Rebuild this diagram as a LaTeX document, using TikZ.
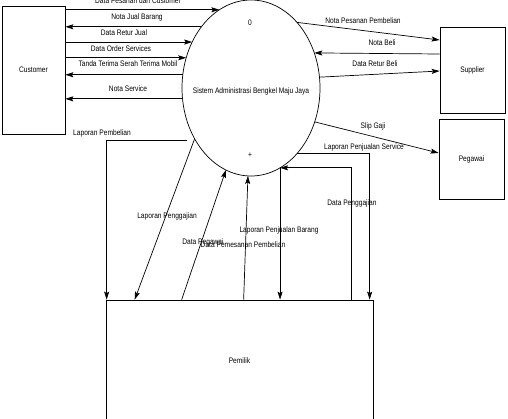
\documentclass[tikz,border=0pt]{standalone}
\usepackage{fontspec}
\setmainfont{Liberation Sans}[FakeStretch=0.83]
\usetikzlibrary{arrows.meta,shapes.geometric,calc}
\begin{document}
\begin{tikzpicture}[x=1pt,y=-1pt,
  every node/.style={font=\fontsize{8}{9}\selectfont, inner sep=0pt},
  box/.style={draw, line width=0.7pt, minimum width=#1},
  arr/.style={line width=0.7pt, -{Stealth[length=8pt,width=5pt,inset=1.5pt]}},
  lbl/.style={}]
\useasboundingbox (0,0) rectangle (508,418);
% entities
\node[draw, line width=0.7pt, minimum width=63pt, minimum height=128pt] (cust) at (33.5,70) {Customer};
\node[draw, line width=0.7pt, minimum width=65pt, minimum height=86pt] (sup) at (472.5,70) {Supplier};
\node[draw, line width=0.7pt, minimum width=65pt, minimum height=80pt] (peg) at (471.5,159) {Pegawai};
\node[draw, line width=0.7pt, minimum width=267pt, minimum height=121pt] (pem) at (239.5,360.5) {Pemilik};
% process
\node[draw, ellipse, line width=0.7pt, minimum width=138pt, minimum height=176pt, outer sep=0pt] (ell) at (251,88) {};
\node (pn) at (250,23) {0};
\node (pname) at (251,91) {Sistem Administrasi Bengkel Maju Jaya};
\node (plus) at (250,155) {+};
% customer flows
\draw[arr] (cust.east |- ell.112.3) -- (ell.112.3);
\draw[arr] (ell.129.8) -- (cust.east |- ell.129.8);
\draw[arr] (cust.east |- ell.142.7) -- (ell.142.7);
\draw[arr] (cust.east |- ell.155.2) -- (ell.155.2);
\draw[arr] (ell.169.2) -- (cust.east |- ell.169.2);
\draw[arr] (ell.189.1) -- (cust.east |- ell.189.1);
\node[lbl] (l1) at (138,1) {Data Pesanan dari Customer};
\node[lbl] (l2) at (137,17) {Nota Jual Barang};
\node[lbl] (l3) at (124,33) {Data Retur Jual};
\node[lbl] (l4) at (121,49) {Data Order Services};
\node[lbl] (l5) at (128,64) {Tanda Terima Serah Terima Mobil};
\node[lbl] (l6) at (128,89) {Nota Service};
% supplier flows
\draw[arr] (ell.55.4) -- ([yshift=30pt]sup.west);
\draw[arr] ([yshift=16pt]sup.west) -- (ell.29.7);
\draw[arr] (ell.9.1) -- ([yshift=-1pt]sup.west);
\node[lbl] (l7) at (363,21) {Nota Pesanan Pembelian};
\node[lbl] (l8) at (382,43) {Nota Beli};
\node[lbl] (l9) at (375,64) {Data Retur Beli};
% pegawai flow
\draw[arr] (ell.-28.1) -- ([yshift=6pt]peg.west);
\node[lbl] (l10) at (373,126) {Slip Gaji};
% pemilik flows
\draw[arr] (ell.-55.4) -| ([xshift=264pt]pem.north west);
\node[lbl] (l11) at (364,147) {Laporan Penjualan Service};
\draw[arr] ([xshift=246pt]pem.north west) |- (ell.-70.2);
\node[lbl] (l12) at (352,203) {Data Penggajian};
\draw[arr] (ell.-70.2) -- (ell.-70.2 |- pem.north);
\node[lbl] (l13) at (279,230) {Laporan Penjualan Barang};
\draw[arr] ([xshift=138pt]pem.north west) -- (ell.268);
\node[lbl] (l14) at (243,245) {Data Pemesanan Pembelian};
\draw[arr] ([xshift=76pt]pem.north west) -- (ell.253.8);
\node[lbl] (l15) at (203,242) {Data Pegawai};
\draw[arr] (ell.222.5) -- ([xshift=29pt]pem.north west);
\node[lbl] (l16) at (167,216) {Laporan Penggajian};
\draw[arr] ([xshift=-8pt]ell.223.9) -| ([xshift=1pt]pem.north west);
\node[lbl] (l17) at (102,133) {Laporan Pembelian};
\end{tikzpicture}
\end{document}
